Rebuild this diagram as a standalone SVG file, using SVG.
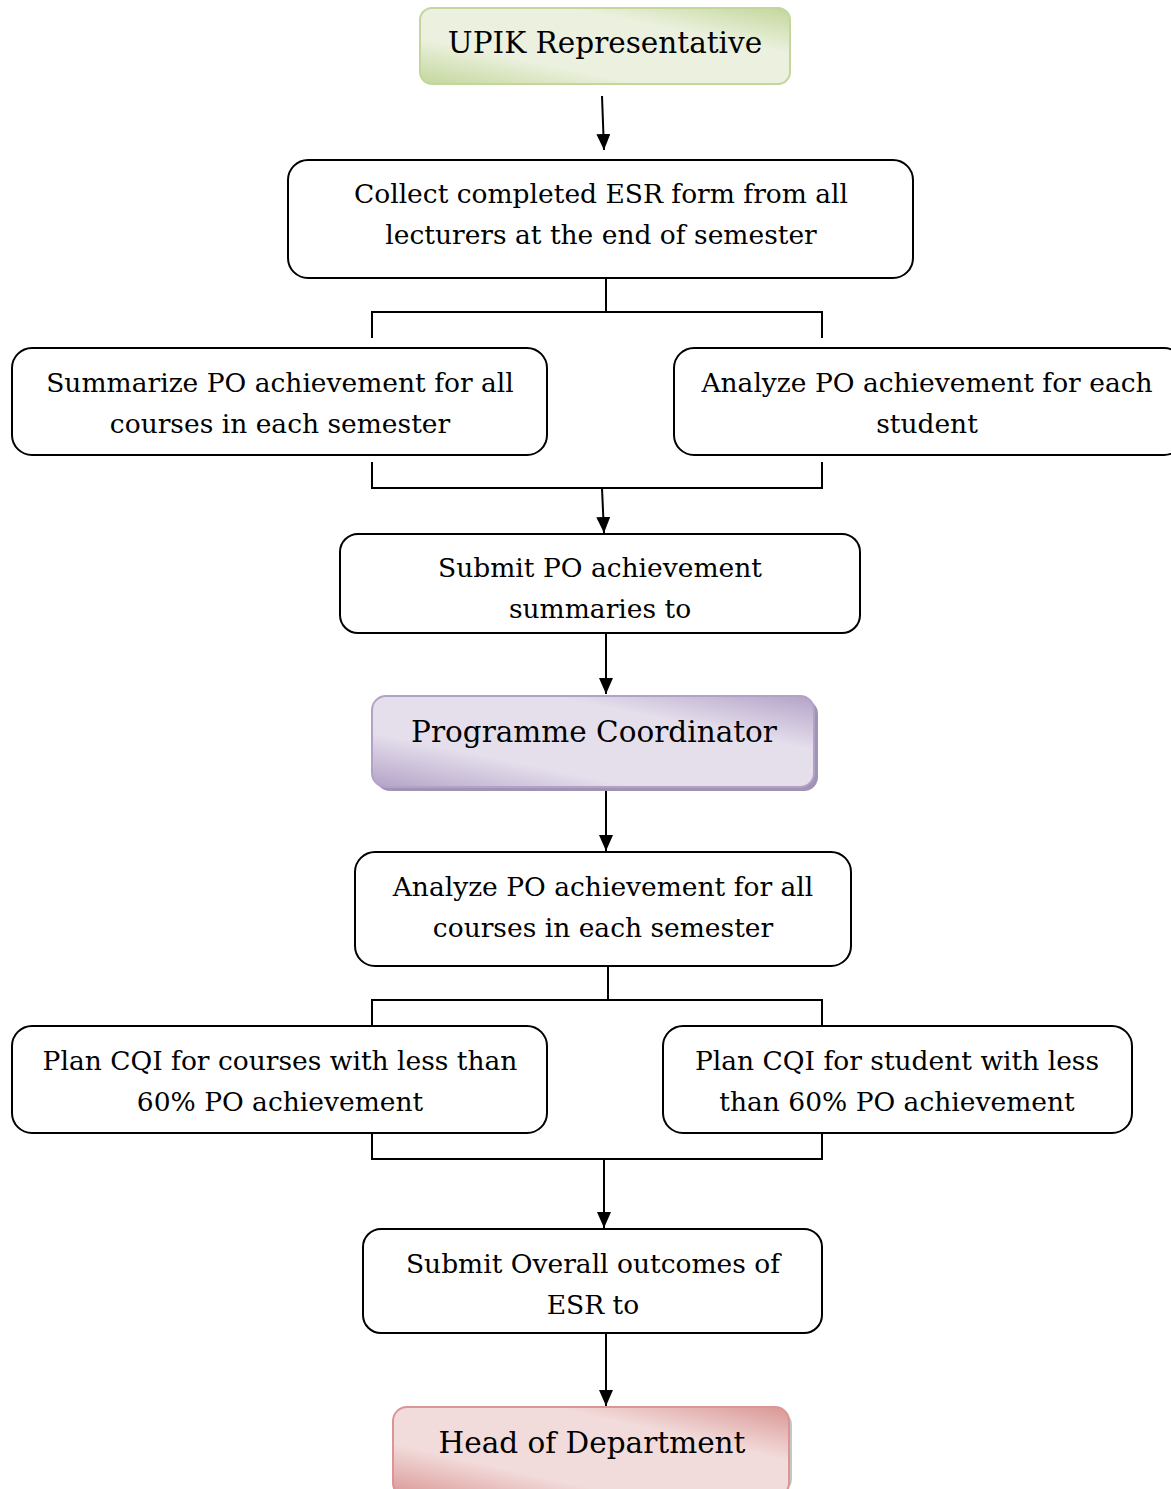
<svg xmlns="http://www.w3.org/2000/svg" width="1171" height="1489" viewBox="0 0 1171 1489">
<defs>
<linearGradient id="gGreen" x1="0" y1="1" x2="1" y2="0">
<stop offset="0" stop-color="#c3d69b"/><stop offset="0.3" stop-color="#ebf1de"/><stop offset="0.7" stop-color="#ebf1de"/><stop offset="1" stop-color="#c3d69b"/>
</linearGradient>
<linearGradient id="gPurple" x1="0" y1="1" x2="1" y2="0">
<stop offset="0" stop-color="#b3a2c7"/><stop offset="0.3" stop-color="#e5dfec"/><stop offset="0.7" stop-color="#e5dfec"/><stop offset="1" stop-color="#b3a2c7"/>
</linearGradient>
<linearGradient id="gRed" x1="0" y1="1" x2="1" y2="0">
<stop offset="0" stop-color="#d99694"/><stop offset="0.3" stop-color="#f2dcdb"/><stop offset="0.7" stop-color="#f2dcdb"/><stop offset="1" stop-color="#d99694"/>
</linearGradient>
<marker id="arr" markerWidth="16" markerHeight="14" viewBox="0 0 16 14" refX="16" refY="7" orient="auto" markerUnits="userSpaceOnUse">
<path d="M0,0 L16,7 L0,14 z" fill="#000"/>
</marker>
</defs>
<style>
text{font-family:"DejaVu Serif","Liberation Serif",serif;font-size:26.5px;fill:#000;text-anchor:middle}
.big{font-size:29.5px}
.box{fill:#fff;stroke:#000;stroke-width:2}
.c{fill:none;stroke:#000;stroke-width:2}
.a{fill:none;stroke:#000;stroke-width:2;marker-end:url(#arr)}
</style>
<g id="connectors">
<path class="a" d="M602,96 L604,150"/>
<path class="c" d="M606,278 V312 M372,338 V312 H822 V338"/>
<path class="c" d="M372,462 V488 H822 V462"/>
<path class="a" d="M602,488 L604,533"/>
<path class="a" d="M606,633 V694"/>
<path class="a" d="M606,790 V851"/>
<path class="c" d="M608,966 V1000 M372,1026 V1000 H822 V1026"/>
<path class="c" d="M372,1133 V1159 H822 V1133"/>
<path class="a" d="M604,1159 V1228"/>
<path class="a" d="M606,1333 V1406"/>
</g>
<g id="upik">
<rect x="420" y="8" width="370" height="76" rx="12" fill="url(#gGreen)" stroke="#c3d69b" stroke-width="2"/>
<text class="big" x="605" y="53">UPIK Representative</text>
</g>
<g id="collect">
<rect class="box" x="288" y="160" width="625" height="118" rx="20"/>
<text x="601" y="203">Collect completed ESR form from all</text>
<text x="601" y="244">lecturers at the end of semester</text>
</g>
<g id="summarize">
<rect class="box" x="12" y="348" width="535" height="107" rx="20"/>
<text x="280" y="392">Summarize PO achievement for all</text>
<text x="280" y="433">courses in each semester</text>
</g>
<g id="analyzeStudent">
<rect class="box" x="674" y="348" width="510" height="107" rx="20"/>
<text x="927" y="392">Analyze PO achievement for each</text>
<text x="927" y="433">student</text>
</g>
<g id="submitPO">
<rect class="box" x="340" y="534" width="520" height="99" rx="18"/>
<text x="600" y="577">Submit PO achievement</text>
<text x="600" y="618">summaries to</text>
</g>
<g id="coordinator">
<rect x="376" y="700" width="442" height="91" rx="14" fill="#a193b4"/>
<rect x="372" y="696" width="442" height="91" rx="14" fill="url(#gPurple)" stroke="#b3a2c7" stroke-width="2"/>
<text class="big" x="594" y="742">Programme Coordinator</text>
</g>
<g id="analyzeAll">
<rect class="box" x="355" y="852" width="496" height="114" rx="20"/>
<text x="603" y="896">Analyze PO achievement for all</text>
<text x="603" y="937">courses in each semester</text>
</g>
<g id="planCourses">
<rect class="box" x="12" y="1026" width="535" height="107" rx="20"/>
<text x="280" y="1070">Plan CQI for courses with less than</text>
<text x="280" y="1111">60% PO achievement</text>
</g>
<g id="planStudent">
<rect class="box" x="663" y="1026" width="469" height="107" rx="20"/>
<text x="897" y="1070">Plan CQI for student with less</text>
<text x="897" y="1111">than 60% PO achievement</text>
</g>
<g id="submitOverall">
<rect class="box" x="363" y="1229" width="459" height="104" rx="18"/>
<text x="593" y="1273">Submit Overall outcomes of</text>
<text x="593" y="1314">ESR to</text>
</g>
<g id="hod">
<rect x="397" y="1411" width="395" height="82" rx="14" fill="#a0a0a0" opacity="0.6"/>
<rect x="393" y="1407" width="396" height="90" rx="14" fill="url(#gRed)" stroke="#d99694" stroke-width="2"/>
<text class="big" x="592" y="1453">Head of Department</text>
</g>
</svg>
